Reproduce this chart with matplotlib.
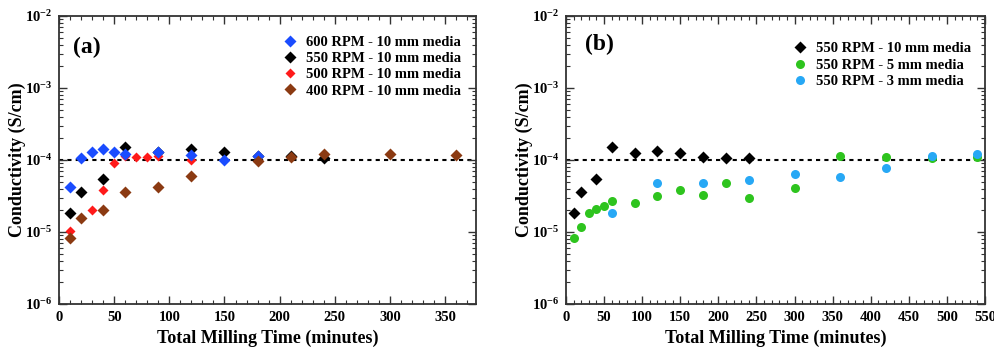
import math
import matplotlib
matplotlib.use("Agg")
import matplotlib.pyplot as plt
from matplotlib.ticker import MultipleLocator, LogLocator, FuncFormatter, NullFormatter

plt.rcParams['font.family'] = ['Liberation Serif', 'DejaVu Serif']
plt.rcParams['font.weight'] = 'bold'
plt.rcParams['mathtext.fontset'] = 'custom'
plt.rcParams['mathtext.rm'] = 'Liberation Serif:bold'
plt.rcParams['mathtext.bf'] = 'Liberation Serif:bold'
plt.rcParams['mathtext.it'] = 'Liberation Serif:bold'

# ---- Panel (a): rotation speed series, 10 mm media ----
t_600 = [10, 20, 30, 40, 50, 60, 90, 120, 150, 180]
s_600 = [4.2e-5, 1.08e-4, 1.3e-4, 1.41e-4, 1.3e-4, 1.21e-4, 1.28e-4, 1.17e-4, 1.0e-4, 1.13e-4]

t_550 = [10, 20, 40, 60, 90, 120, 150, 180, 210, 240]
s_550 = [1.85e-5, 3.6e-5, 5.5e-5, 1.53e-4, 1.3e-4, 1.42e-4, 1.28e-4, 1.12e-4, 1.12e-4, 1.08e-4]

t_500 = [10, 30, 40, 50, 60, 70, 80, 90, 120]
s_500 = [1.02e-5, 2.05e-5, 3.8e-5, 9.0e-5, 1.15e-4, 1.09e-4, 1.09e-4, 1.13e-4, 1.0e-4]

t_400 = [10, 20, 40, 60, 90, 120, 180, 210, 240, 300, 360]
s_400 = [8.3e-6, 1.55e-5, 2.05e-5, 3.6e-5, 4.2e-5, 6.0e-5, 9.6e-5, 1.1e-4, 1.21e-4, 1.21e-4, 1.17e-4]

# ---- Panel (b): media size series, 550 RPM ----
t_b10 = [10, 20, 40, 60, 90, 120, 150, 180, 210, 240]
s_b10 = [1.82e-5, 3.56e-5, 5.4e-5, 1.52e-4, 1.26e-4, 1.35e-4, 1.26e-4, 1.1e-4, 1.08e-4, 1.08e-4]

t_b5 = [10, 20, 30, 40, 50, 60, 90, 120, 150, 180, 210, 240, 300, 360, 420, 480, 540]
s_b5 = [8.2e-6, 1.19e-5, 1.86e-5, 2.09e-5, 2.32e-5, 2.72e-5, 2.5e-5, 3.16e-5, 3.83e-5,
        3.26e-5, 4.74e-5, 3.0e-5, 4.05e-5, 1.14e-4, 1.09e-4, 1.06e-4, 1.1e-4]

t_b3 = [60, 120, 180, 240, 300, 360, 420, 480, 540]
s_b3 = [1.86e-5, 4.74e-5, 4.74e-5, 5.27e-5, 6.3e-5, 5.86e-5, 7.8e-5, 1.14e-4, 1.2e-4]

threshold = 1e-4

W, H = 995, 348
fig = plt.figure(figsize=(W / 100, H / 100), dpi=100)


def px_axes(x0, x1, y0, y1):
    return fig.add_axes([x0 / W, 1 - y1 / H, (x1 - x0) / W, (y1 - y0) / H])


def sci_fmt(v, pos):
    e = int(round(math.log10(v)))
    return r'$\mathbf{10^{%d}}$' % e


def style_axes(ax, xmax, xmajor):
    ax.set_yscale('log')
    ax.set_ylim(1e-6, 1e-2)
    ax.set_xlim(0, xmax)
    ax.xaxis.set_major_locator(MultipleLocator(xmajor))
    ax.xaxis.set_minor_locator(MultipleLocator(10))
    ax.yaxis.set_major_locator(LogLocator(base=10, numticks=10))
    ax.yaxis.set_minor_locator(LogLocator(base=10, subs=range(2, 10), numticks=20))
    ax.yaxis.set_major_formatter(FuncFormatter(sci_fmt))
    ax.yaxis.set_minor_formatter(NullFormatter())
    ax.tick_params(which='both', direction='in', top=True, right=True,
                   color='#333333', labelsize=10.5)
    ax.tick_params(which='major', length=6, width=1.0, pad=5)
    ax.tick_params(which='minor', length=3, width=0.8)
    for lab in ax.get_xticklabels():
        lab.set_fontweight('bold')
    for sp in ax.spines.values():
        sp.set_linewidth(1.3)
        sp.set_color('#333333')
    ax.axhline(threshold, color='black', lw=1.5, ls=(0, (2, 2)), zorder=1)


# Panel (a)
ax1 = px_axes(59, 476, 16, 304)
style_axes(ax1, 378, 50)
h550, = ax1.plot(t_550, s_550, 'D', color='black', ms=6.2, mec='none', label='550 RPM - 10 mm media')
h500, = ax1.plot(t_500, s_500, 'D', color='#ff1a1a', ms=4.6, mec='none', label='500 RPM - 10 mm media')
h600, = ax1.plot(t_600, s_600, 'D', color='#1a4cff', ms=6.2, mec='none', label='600 RPM - 10 mm media')
h400, = ax1.plot(t_400, s_400, 'D', color='#8b3a12', ms=6.2, mec='none', label='400 RPM - 10 mm media')
ax1.legend(handles=[h600, h550, h500, h400], loc='upper left',
           bbox_to_anchor=((283 - 59) / 417, (304 - 36) / 288),
           frameon=False, borderpad=0, borderaxespad=0, handlelength=1.0,
           handletextpad=0.6, labelspacing=0.2, prop={'weight': 'bold', 'size': 10.5})
ax1.text((73 - 59) / 417, (304 - 47) / 288, '(a)', transform=ax1.transAxes,
         fontsize=17, fontweight='bold', ha='left', va='center')

# Panel (b)
ax2 = px_axes(566, 985, 16, 304)
style_axes(ax2, 550, 50)
hb10, = ax2.plot(t_b10, s_b10, 'D', color='black', ms=6.2, mec='none', label='550 RPM - 10 mm media')
hb5, = ax2.plot(t_b5, s_b5, 'o', color='#2ec41e', ms=6.5, mec='none', label='550 RPM - 5 mm media')
hb3, = ax2.plot(t_b3, s_b3, 'o', color='#27a8f5', ms=6.5, mec='none', label='550 RPM - 3 mm media')
ax2.legend(handles=[hb10, hb5, hb3], loc='upper left',
           bbox_to_anchor=((793 - 566) / 419, (304 - 42) / 288),
           frameon=False, borderpad=0, borderaxespad=0, handlelength=1.0,
           handletextpad=0.6, labelspacing=0.22, prop={'weight': 'bold', 'size': 10.5})
ax2.text((585 - 566) / 419, (304 - 44) / 288, '(b)', transform=ax2.transAxes,
         fontsize=17, fontweight='bold', ha='left', va='center')

# Axis titles
for cx, ylx in ((267.5, 17), (775.5, 524)):
    fig.text(cx / W, 1 - 338 / H, 'Total Milling Time (minutes)', ha='center', va='center',
             fontsize=13, fontweight='bold')
    fig.text(ylx / W, 1 - 160 / H, 'Conductivity (S/cm)', ha='center', va='center',
             rotation=90, fontsize=13, fontweight='bold')

fig.savefig('out.png', dpi=100)
